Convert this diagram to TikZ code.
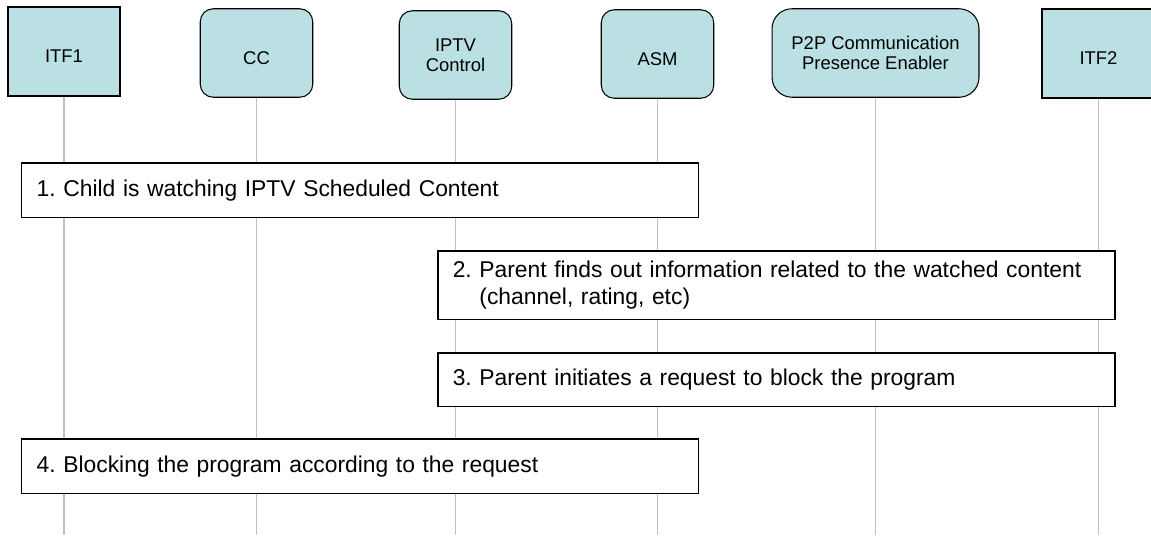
\documentclass[tikz,border=0pt]{standalone}
\usepackage{fontspec}
\setmainfont{Liberation Sans}
\frenchspacing
\definecolor{headfill}{RGB}{187, 224, 227}
\definecolor{lifegray}{RGB}{192, 192, 192}

\begin{document}
\begin{tikzpicture}[x=0.02cm, y=-0.02cm,
    actor/.style={rectangle, draw=black, line width=0.9pt, fill=headfill,
                  minimum width=2.25cm, minimum height=1.77cm, align=center,
                  inner sep=0pt, font=\fontsize{10.5}{11.4}\selectfont,
                  execute at begin node={\rule{0pt}{0.45cm}}},
    ractor/.style={actor, rounded corners=0.26cm, line width=0.6pt},
    stepbox/.style={rectangle, draw=black, line width=0.85pt, fill=white,
                  anchor=north west, align=left, inner xsep=0.3cm, inner ysep=0pt,
                  font=\fontsize{13}{15}\selectfont},
    lifeline/.style={lifegray, line width=0.85pt}
]
    \useasboundingbox (0,0) rectangle (1151,535);

    % Actors
    \node[actor] (itfone) at (64,51.5) {ITF1};
    \node[ractor] (cc) at (256.5,53) {CC};
    \node[ractor] (iptv) at (455.5,55) {IPTV\\Control};
    \node[ractor] (asm) at (657.5,54) {ASM};
    \node[ractor, minimum width=4.14cm, rounded corners=0.4cm] (ptp) at (875.5,53)
        {P2P Communication\\Presence Enabler};
    \node[actor] (itftwo) at (1098.5,53.5) {ITF2};

    % Lifelines
    \coordinate (bottom) at (0,535);
    \foreach \n in {itfone,cc,iptv,asm,ptp,itftwo}
        \draw[lifeline] (\n) -- (\n |- bottom);

    % Steps
    \node[stepbox, text width=12.94cm, minimum height=1.1cm] (watch) at (21,162)
        {1. Child is watching IPTV Scheduled Content};
    \node[stepbox, text width=12.95cm, minimum height=1.38cm] (info) at (437,250)
        {2. Parent finds out information related to the watched content\\
         \hphantom{2. }(channel, rating, etc)};
    \node[stepbox, text width=12.95cm, minimum height=1.08cm] (request) at (437,352)
        {3. Parent initiates a request to block the program};
    \node[stepbox, text width=12.94cm, minimum height=1.1cm] (block) at (21,438)
        {4. Blocking the program according to the request};
\end{tikzpicture}
\end{document}
